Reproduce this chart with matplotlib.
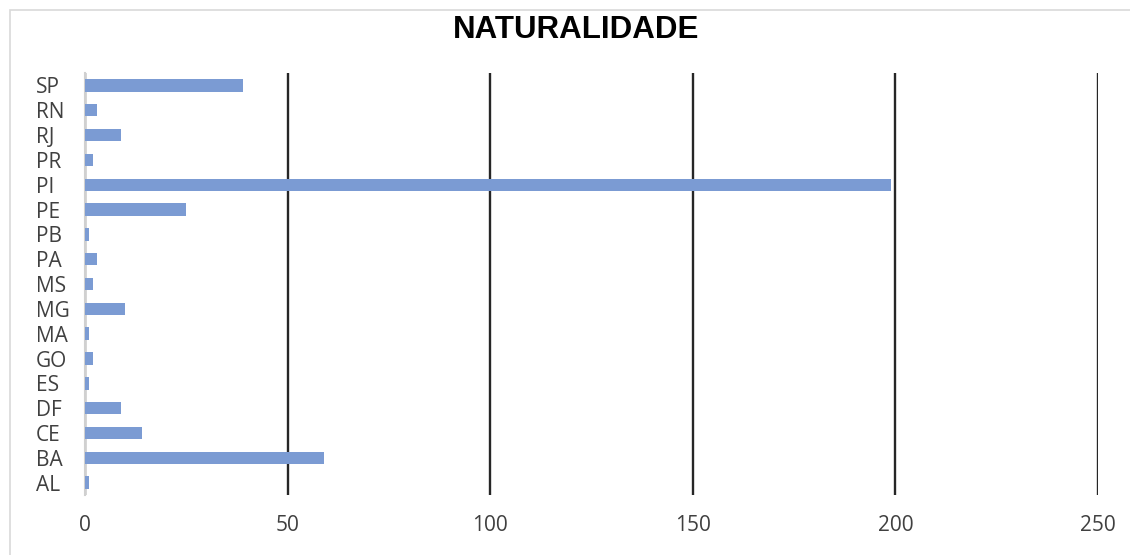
import matplotlib.pyplot as plt
from matplotlib.patches import Rectangle

# Birthplace (UF) counts, bottom to top as drawn
states = ["AL", "BA", "CE", "DF", "ES", "GO", "MA", "MG", "MS",
          "PA", "PB", "PE", "PI", "PR", "RJ", "RN", "SP"]
counts = [1, 59, 14, 9, 1, 2, 1, 10, 2, 3, 1, 25, 199, 2, 9, 3, 39]
x_ticks = [0, 50, 100, 150, 200, 250]

fig = plt.figure(figsize=(11.3, 5.55), dpi=100)

# light frame around the chart like the Excel chart area (right/bottom run off the image)
fig.patches.append(Rectangle((9.5 / 1130, -10 / 555), 1130 / 1130, 555 / 555,
                             transform=fig.transFigure, fill=False,
                             edgecolor="#d9d9d9", linewidth=1.2))

ax = fig.add_axes([0.0752, 0.108, 0.8965, 0.7605])
ax.barh(states, counts, height=0.5, color="#7b9bd3", zorder=3)

ax.set_xlim(0, 250)
ax.set_ylim(-0.5, len(states) - 0.5)
ax.set_xticks(x_ticks)
ax.xaxis.grid(True, color="#262626", linewidth=1.7, zorder=0)

for side in ["top", "right", "bottom"]:
    ax.spines[side].set_visible(False)
ax.spines["left"].set_color("#d0d0d0")
ax.spines["left"].set_linewidth(1.5)

ax.tick_params(axis="both", length=0, labelsize=15, labelcolor="#404040",
               labelfontfamily="Open Sans")
ax.tick_params(axis="x", pad=14.4)
ax.tick_params(axis="y", pad=35.3)
for lbl in ax.get_yticklabels():
    lbl.set_horizontalalignment("left")

fig.text(576 / 1130, 1 - 30 / 555, "NATURALIDADE", ha="center", va="center",
         fontsize=22.5, fontweight="bold", family="Liberation Sans")

plt.savefig("out.png")
plt.close()
